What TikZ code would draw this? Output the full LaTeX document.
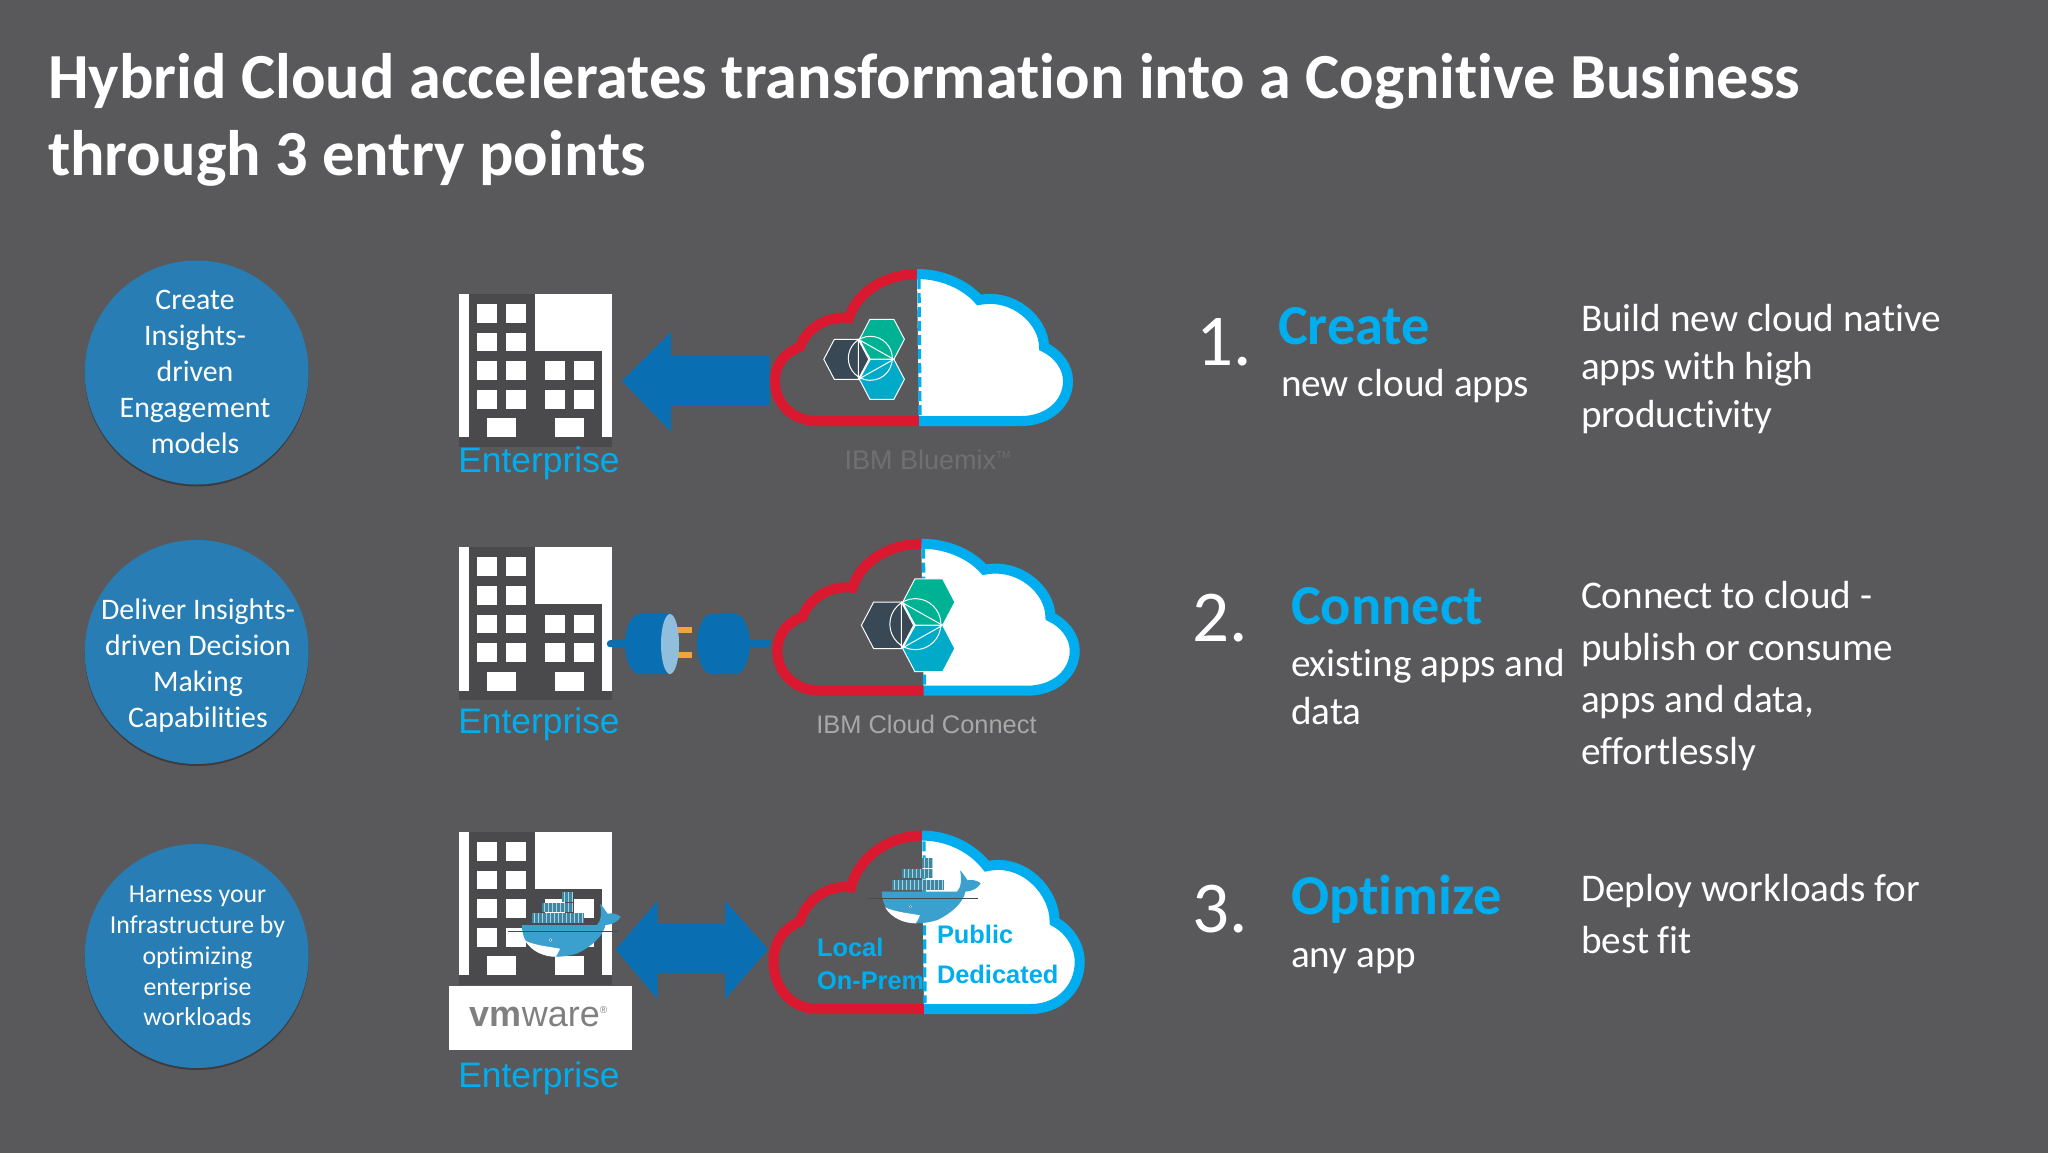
\documentclass[tikz,border=0pt]{standalone}
\usepackage{fontspec}
\setmainfont[Ligatures=NoCommon]{Carlito}
\newfontfamily\arialfont{Liberation Sans}
\definecolor{cbg}{RGB}{89,89,91}
\definecolor{cred}{RGB}{218,24,48}
\definecolor{csky}{RGB}{0,174,239}
\definecolor{cdisc}{RGB}{39,125,180}
\definecolor{carrow}{RGB}{10,110,178}
\definecolor{ctower}{RGB}{74,74,76}
\definecolor{cwhale}{RGB}{59,160,205}
\definecolor{cbox}{RGB}{62,135,160}
\definecolor{cdark}{RGB}{56,72,84}
\definecolor{cgreen}{RGB}{0,178,148}
\definecolor{cteal}{RGB}{0,170,200}
\definecolor{cpin}{RGB}{240,165,60}
\definecolor{cgone}{RGB}{112,112,114}
\definecolor{cgtwo}{RGB}{168,168,168}
\definecolor{cshade}{RGB}{60,60,62}
\tikzset{
  disc/.style={circle,fill=cdisc,minimum size=112pt,preaction={fill=cshade,transform canvas={yshift=-1pt}}},
  disctext/.style={text=white,align=center,font=\fontsize{14.9}{17.9}\selectfont},
  bodytext/.style={anchor=base west,text=white,align=left,font=\fontsize{19.6}{26}\selectfont},
  headtext/.style={anchor=base west,text=csky,font=\bfseries\fontsize{28.2}{30}\selectfont},
  numtext/.style={anchor=base west,text=white,font=\fontsize{36.5}{40}\selectfont},
  titletext/.style={anchor=base west,text=white,font=\bfseries\fontsize{32.15}{32}\selectfont},
  enterprise/.style={anchor=base,text=csky,font=\arialfont\fontsize{17.7}{20}\selectfont},
  cloudtext/.style={anchor=base west,text=csky,font=\arialfont\bfseries\fontsize{12.7}{15}\selectfont},
  pics/building/.style={code={
    \fill[white] (0,0) rectangle (153.4,143.3);
    \fill[ctower] (0,143.3) rectangle (153.4,152.7);
    \fill[ctower] (10.4,0) rectangle (76.8,143.3);
    \fill[ctower] (76.8,57) rectangle (143.5,143.3);
    \foreach \ya in {10,38.7,67.3,96} {
      \fill[white] (18.2,\ya) rectangle +(20.4,18.7);
      \fill[white] (47.3,\ya) rectangle +(20.4,18.7);
    }
    \foreach \ya in {67.3,96} {
      \fill[white] (85.9,\ya) rectangle +(20,18.7);
      \fill[white] (114.9,\ya) rectangle +(20.4,18.7);
    }
    \fill[white] (28.2,124.3) rectangle +(29.1,19);
    \fill[white] (95.9,124.3) rectangle +(29,19);
  }},
  pics/cloud/.style={code={
    \fill[white] (-2,-147) .. controls (25,-147) and (48,-135) .. (60,-121)
      .. controls (95,-128) and (125,-100) .. (125,-74)
      .. controls (138,-68) and (149,-55) .. (149,-40)
      .. controls (149,-18) and (130,0) .. (102,0) -- (0,0) -- cycle;
    \draw[cred,line width=5pt] (1,0) -- (-102,0) .. controls (-127,0) and (-144,-18) .. (-144,-40)
      .. controls (-144,-56) and (-135,-68) .. (-119,-74)
      .. controls (-113,-92) and (-92,-106) .. (-70,-103)
      .. controls (-62,-130) and (-32,-147) .. (-2,-147);
    \draw[csky,line width=5pt] (-2,-147) .. controls (25,-147) and (48,-135) .. (60,-121)
      .. controls (95,-128) and (125,-100) .. (125,-74)
      .. controls (138,-68) and (149,-55) .. (149,-40)
      .. controls (149,-18) and (130,0) .. (102,0) -- (0,0);
    \draw[csky,line width=1.6pt,dash pattern=on 5pt off 2pt] (0,-142) -- (1,-5);
  }},
  pics/hexlogo/.style={code={
    \foreach \xa/\ya/\hexcol in {0/0/cdark,35.6/-20/cgreen,35.6/20/cteal} {
      \fill[\hexcol,draw=white,line width=0.5pt] (\xa-22.5,\ya) -- (\xa-12,\ya-20) -- (\xa+12,\ya-20)
        -- (\xa+22.5,\ya) -- (\xa+12,\ya+20) -- (\xa-12,\ya+20) -- cycle;
    }
    \draw[white,line width=0.5pt] (24,-1) ellipse (22 and 22);
    \draw[white,line width=0.5pt] (12,-20) -- (47.5,0) -- (12,20) -- cycle;
    \draw[white,line width=0.5pt] (12,-20) -- (24,0) -- (47.5,0) (24,0) -- (12,20);
  }},
  pics/whale/.style={code={
    \fill[cbox] (54.2,-40) rectangle (65,-30);
    \fill[cbox] (33.8,-29) rectangle (65,-20);
    \fill[cbox] (23.9,-18.3) rectangle (75.9,-8.3);
    \foreach \xa in {26,30,...,74} {
      \draw[white,line width=0.2pt,opacity=0.6] (\xa,-18.3) -- (\xa,-8.3);
    }
    \foreach \xa in {36,40,...,64} {
      \draw[white,line width=0.2pt,opacity=0.6] (\xa,-29) -- (\xa,-20);
    }
    \foreach \xa in {56,60,64} {
      \draw[white,line width=0.2pt,opacity=0.6] (\xa,-40) -- (\xa,-30);
    }
    \fill[cwhale] (13.9,-6.7) -- (89,-6.7) .. controls (93,-10) and (94,-20) .. (92,-28)
      .. controls (96,-24) and (98,-20) .. (99.6,-18) .. controls (104,-19) and (109,-18) .. (112.7,-15)
      .. controls (110,-10) and (104,-7) .. (97.5,-6.7) .. controls (95,4) and (85,14) .. (69.4,21.7)
      .. controls (62,24) and (55,25) .. (47.7,25) .. controls (36,25) and (14,18) .. (13.9,-6.7) -- cycle;
    \fill[white] (17,9) .. controls (28,14) and (42,15) .. (52,17) .. controls (50,21) and (49,24) .. (47.7,25)
      .. controls (36,25) and (24,20) .. (17,9) -- cycle;
    \draw[ctower,line width=0.3pt] (0,0) -- (110,0);
    \fill[white] (42.5,8.3) circle (1.6);
    \fill[ctower] (42.5,8.3) circle (0.9);
  }},
}
\begin{document}
\begin{tikzpicture}[y=-0.5pt,x=0.5pt,inner sep=0pt,outer sep=0pt]
  \useasboundingbox (0,0) rectangle (2048,1152);
  \fill[cbg] (-6,-6) rectangle (2054,1158);
  % title
  \node[titletext] (title1) at (48,98)
    {Hybrid Cloud accelerates transformation into a Cognitive Business};
  \node[titletext] (title2) at (48,175) {through 3 entry points};
  % discs
  \node[disc] (disc1) at (196.7,372.5) {};
  \node[disc] (disc2) at (196.7,652) {};
  \node[disc] (disc3) at (196.7,956) {};
  \node[disctext] (disc1txt) at (195,372) {Create\\Insights-\\driven\\Engagement\\models};
  \node[disctext] (disc2txt) at (198,665.5) {Deliver Insights-\\driven Decision\\Making\\Capabilities};
  \node[disctext,font=\fontsize{12.9}{15.4}\selectfont] (disc3txt) at (197.5,956)
    {Harness your\\Infrastructure by\\optimizing\\enterprise\\workloads};
  % row 1
  \pic at (458.6,294) {building};
  \node[enterprise] (ent1) at (539,472.7) {Enterprise};
  \fill[carrow] (622,381) -- (671,331.7) -- (671,356) -- (769.5,356) -- (769.5,406) -- (671,406) -- (671,431.7) -- cycle;
  \pic at (919,421) {cloud};
  \pic at (846.3,359.3) {hexlogo};
  \node[anchor=base,text=cgone,font=\arialfont\fontsize{13.5}{15}\selectfont] (bluemix) at (928,469.3) {IBM Bluemix\textsuperscript{\tiny TM}};
  % row 2
  \pic at (458.6,547.3) {building};
  \node[enterprise] (ent2) at (539,733.7) {Enterprise};
  \fill[carrow,rounded corners=1.5pt] (607,640.2) rectangle (640,647.2);
  \fill[carrow] (750,640.2) rectangle (769.5,647.2);
  \fill[carrow] (670,614) -- (640,614) .. controls (630,614) and (625,630) .. (625,644)
    .. controls (625,658) and (630,674) .. (640,674) -- (670,674) -- cycle;
  \fill[cpin] (670.7,626.7) rectangle (691.5,633.3);
  \fill[cpin] (670.7,651.7) rectangle (691.5,657.7);
  \fill[carrow!45!white] (670,644) ellipse (9 and 30);
  \fill[carrow] (711,614) .. controls (703,614) and (696.7,630) .. (696.7,644)
    .. controls (696.7,658) and (703,674) .. (711,674) -- (736,674)
    .. controls (744,674) and (750,658) .. (750,644) .. controls (750,630) and (744,614) .. (736,614) -- cycle;
  \pic[transform shape,xscale=1.015] at (923.5,690.7) {cloud};
  \pic[transform shape,scale=1.16] at (887.5,625.3) {hexlogo};
  \node[anchor=base,text=cgtwo,font=\arialfont\fontsize{12.7}{15}\selectfont] (connect) at (926.5,733) {IBM Cloud Connect};
  % row 3
  \pic at (458.6,832) {building};
  \fill[white] (448.6,985.7) rectangle (631.6,1050);
  \node[anchor=base,text=black!50!white,font=\arialfont\fontsize{18}{20}\selectfont] (vmware) at (539,1026) {\textbf{vm}ware\textsuperscript{\tiny\textregistered}};
  \node[enterprise] (ent3) at (539,1087) {Enterprise};
  \fill[carrow] (615.6,949.3) -- (657.7,900.7) -- (657.7,924) -- (725,924) -- (725,900.7) -- (768,949.3)
    -- (725,999.3) -- (725,973.3) -- (657.7,973.3) -- (657.7,999.3) -- cycle;
  \pic[transform shape,xscale=1.045,yscale=1.18] at (924,1009) {cloud};
  \pic at (508,931.7) {whale};
  \pic at (868,898.3) {whale};
  \node[cloudtext] (local) at (817,956) {Local};
  \node[cloudtext] (onprem) at (817,989.3) {On-Prem};
  \node[cloudtext] (public) at (937,943) {Public};
  \node[cloudtext] (dedicated) at (937,983.5) {Dedicated};
  % right column
  \node[numtext] (num1) at (1196,365) {1.};
  \node[headtext] (head1) at (1278,344.5) {Create};
  \node[bodytext] (sub1) at (1281,396.5) {new cloud apps};
  \node[bodytext,font=\fontsize{19.6}{24}\selectfont] (txt1) at (1581,427) {Build new cloud native\\apps with high\\productivity};
  \node[numtext] (num2) at (1192,641.7) {2.};
  \node[headtext] (head2) at (1291,624.5) {Connect};
  \node[bodytext,font=\fontsize{19.6}{23.8}\selectfont] (sub2) at (1291,724) {existing apps and\\data};
  \node[bodytext] (txt2) at (1581,764.5) {Connect to cloud -\\publish or consume\\apps and data,\\effortlessly};
  \node[numtext] (num3) at (1192,932.7) {3.};
  \node[headtext] (head3) at (1291,914.5) {Optimize};
  \node[bodytext] (sub3) at (1291,967) {any app};
  \node[bodytext] (txt3) at (1581,953) {Deploy workloads for\\best fit};
\end{tikzpicture}
\end{document}
